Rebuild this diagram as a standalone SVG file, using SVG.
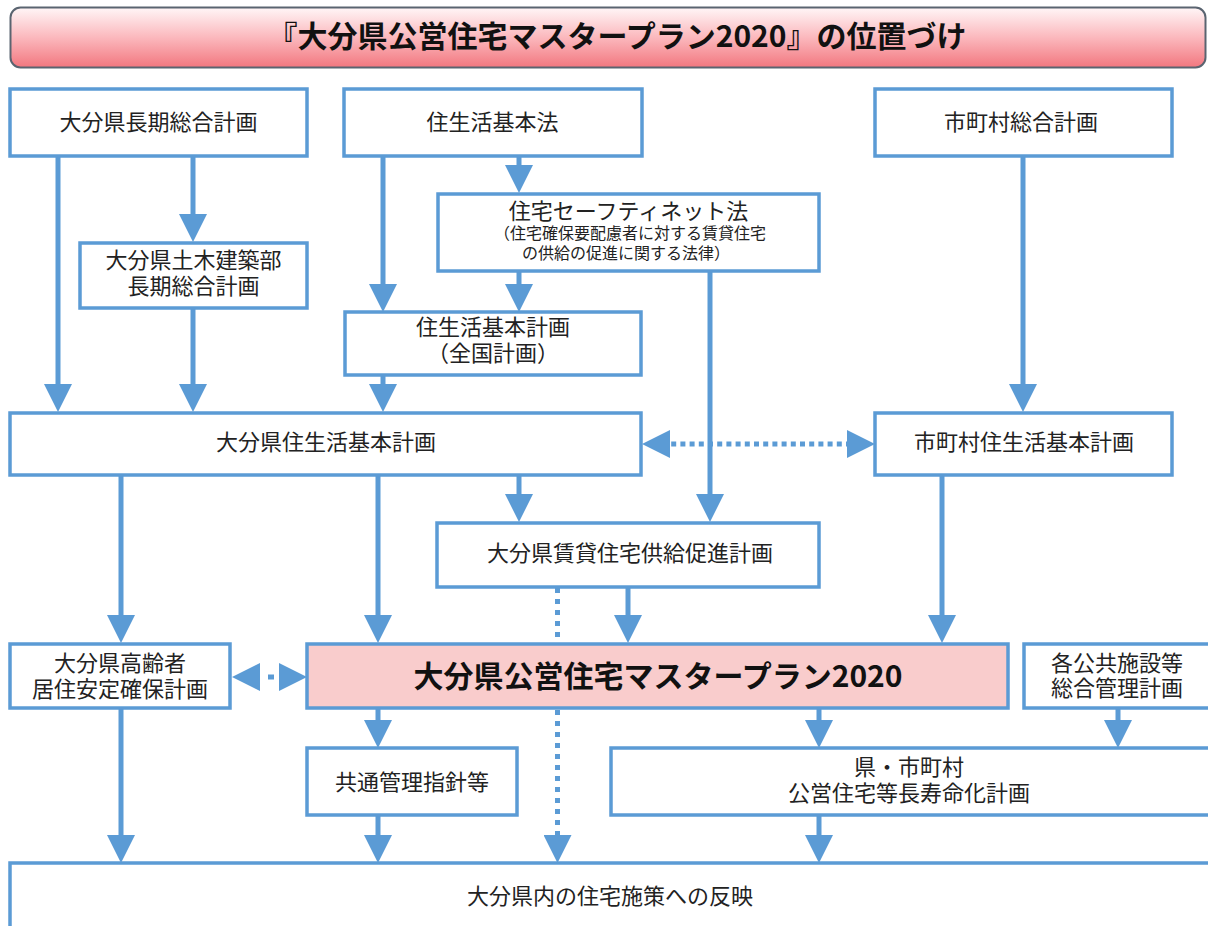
<svg xmlns="http://www.w3.org/2000/svg" width="1208" height="926" viewBox="0 0 1208 926">
<style>
.box{fill:#ffffff;stroke:#5b9bd5;stroke-width:3.5}
.main{fill:#f9cccc;stroke:#5b9bd5;stroke-width:3.5}
.t{font-family:"Noto Sans CJK JP","Noto Sans CJK SC",sans-serif;font-size:22px;fill:#222222;text-anchor:middle}
.s{font-size:16px}
.b{font-weight:bold;font-size:30px;fill:#111111}
.a{stroke:#5b9bd5;stroke-width:5;fill:none;marker-end:url(#ah)}
.d{stroke:#5b9bd5;stroke-width:5;fill:none;stroke-dasharray:5 6}
.dh{stroke:#5b9bd5;stroke-width:5;fill:none;stroke-dasharray:5 4.2;marker-start:url(#ah);marker-end:url(#ah)}
</style>
<defs>
<linearGradient id="tg" x1="0" y1="0" x2="0" y2="1">
<stop offset="0" stop-color="#fff6f7"/>
<stop offset="0.5" stop-color="#fbb8bd"/>
<stop offset="1" stop-color="#f2777f"/>
</linearGradient>
<marker id="ah" viewBox="0 0 28 28" markerUnits="userSpaceOnUse" markerWidth="28" markerHeight="28" refX="8" refY="14" orient="auto-start-reverse">
<path d="M0,0 L28,14 L0,28 z" fill="#5b9bd5"/>
</marker>
</defs>
<rect width="1208" height="926" fill="#ffffff"/>

<g id="title">
<rect x="10.5" y="7.5" width="1195" height="60" rx="10" fill="url(#tg)" stroke="#5a6470" stroke-width="2"/>
<text class="t b" x="617" y="47">『大分県公営住宅マスタープラン2020』の位置づけ</text>
</g>

<g id="connectors">
<line class="a" x1="58" y1="156" x2="58" y2="392"/>
<line class="a" x1="193" y1="156" x2="193" y2="222"/>
<line class="a" x1="193" y1="308" x2="193" y2="392"/>
<line class="a" x1="383" y1="156" x2="383" y2="292"/>
<line class="a" x1="519" y1="156" x2="519" y2="173"/>
<line class="a" x1="519" y1="272" x2="519" y2="292"/>
<line class="a" x1="383" y1="375" x2="383" y2="392"/>
<line class="a" x1="1023" y1="156" x2="1023" y2="392"/>
<line class="a" x1="710" y1="272" x2="710" y2="502"/>
<line class="a" x1="121" y1="475" x2="121" y2="623"/>
<line class="a" x1="378" y1="475" x2="378" y2="623"/>
<line class="a" x1="519" y1="475" x2="519" y2="502"/>
<line class="a" x1="628" y1="588" x2="628" y2="623"/>
<line class="a" x1="942" y1="476" x2="942" y2="623"/>
<line class="a" x1="378" y1="709" x2="378" y2="728"/>
<line class="a" x1="819" y1="709" x2="819" y2="728"/>
<line class="a" x1="1118" y1="709" x2="1118" y2="728"/>
<line class="a" x1="121" y1="709" x2="121" y2="843"/>
<line class="a" x1="378" y1="815" x2="378" y2="843"/>
<line class="a" x1="819" y1="815" x2="819" y2="843"/>
<line class="d" x1="557.5" y1="588" x2="557.5" y2="642"/>
<line class="d" x1="557.5" y1="710" x2="557.5" y2="843" style="marker-end:url(#ah)"/>
<line class="dh" x1="662" y1="444" x2="855" y2="444"/>
<line class="dh" x1="252" y1="677" x2="287" y2="677" style="stroke-dasharray:0 16 6 100"/>
</g>

<g id="n_choki">
<rect class="box" x="10" y="89" width="297" height="67"/>
<text class="t" x="158.5" y="130">大分県長期総合計画</text>
</g>
<g id="n_hou">
<rect class="box" x="344" y="89" width="298" height="67"/>
<text class="t" x="492.5" y="130">住生活基本法</text>
</g>
<g id="n_shichoson">
<rect class="box" x="875" y="89" width="297" height="67"/>
<text class="t" x="1021" y="130">市町村総合計画</text>
</g>
<g id="n_doboku">
<rect class="box" x="80" y="243" width="227" height="65"/>
<text class="t" x="193.5" y="268">大分県土木建築部</text>
<text class="t" x="193.5" y="294">長期総合計画</text>
</g>
<g id="n_safety">
<rect class="box" x="438" y="194" width="381" height="77"/>
<text class="t" x="628.5" y="219">住宅セーフティネット法</text>
<text class="t s" x="630" y="239">（住宅確保要配慮者に対する賃貸住宅</text>
<text class="t s" x="626" y="259">の供給の促進に関する法律）</text>
</g>
<g id="n_zenkoku">
<rect class="box" x="345" y="312" width="296" height="63"/>
<text class="t" x="493" y="335">住生活基本計画</text>
<text class="t" x="493" y="361">（全国計画）</text>
</g>
<g id="n_kenjuseikatsu">
<rect class="box" x="10" y="413" width="631" height="62"/>
<text class="t" x="326" y="450">大分県住生活基本計画</text>
</g>
<g id="n_shichosonjuseikatsu">
<rect class="box" x="875" y="413" width="297" height="62"/>
<text class="t" x="1024" y="450">市町村住生活基本計画</text>
</g>
<g id="n_chintai">
<rect class="box" x="437" y="523" width="382" height="64"/>
<text class="t" x="630" y="561">大分県賃貸住宅供給促進計画</text>
</g>
<g id="n_koreisha">
<rect class="box" x="10" y="644" width="220" height="64"/>
<text class="t" x="120" y="671">大分県高齢者</text>
<text class="t" x="120" y="697">居住安定確保計画</text>
</g>
<g id="n_master">
<rect class="main" x="307" y="644" width="701" height="64"/>
<text class="t b" x="658" y="687">大分県公営住宅マスタープラン2020</text>
</g>
<g id="n_kokyo">
<rect class="box" x="1024" y="644" width="190" height="64"/>
<text class="t" x="1117" y="671">各公共施設等</text>
<text class="t" x="1117" y="696">総合管理計画</text>
</g>
<g id="n_kyotsu">
<rect class="box" x="307" y="748" width="210" height="67"/>
<text class="t" x="412" y="790">共通管理指針等</text>
</g>
<g id="n_chojumyo">
<rect class="box" x="611" y="748" width="603" height="67"/>
<text class="t" x="909" y="775">県・市町村</text>
<text class="t" x="909" y="801">公営住宅等長寿命化計画</text>
</g>
<g id="n_hanei">
<rect class="box" x="10" y="863" width="1204" height="80"/>
<text class="t" x="610" y="904">大分県内の住宅施策への反映</text>
</g>
</svg>
